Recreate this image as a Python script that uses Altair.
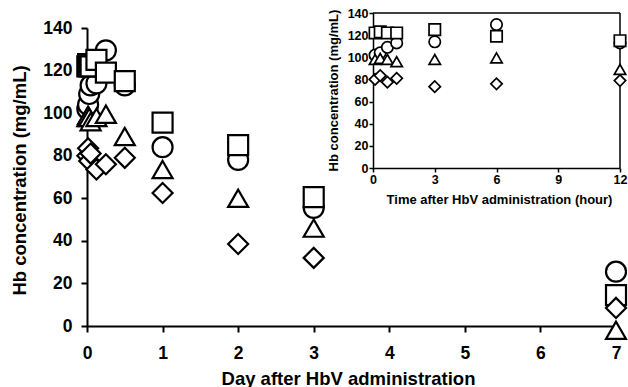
import altair as alt
import pandas as pd

# sampling times (hours after HbV administration)
hours = [0.1, 0.35, 0.7, 1.15, 3, 6, 12, 24, 48, 72, 168]

# Hb concentration (mg/mL) per animal / symbol
hb_circle = [102, 104, 109, 113, 114, 129.5, 113, 84, 78, 55.5, 25.5]
hb_square = [122, 123, 122, 122, 125, 119, 115, 95.5, 85, 60.5, 14.5]
hb_triangle = [98, 99, 98, 96, 98, 99.5, 89, 73.5, 60, 46, -2]
hb_diamond = [80, 83.5, 77.5, 81, 73.5, 76, 79, 62.5, 38.5, 32, 8.5]

series_names = ["circle", "square", "triangle", "diamond"]
series_shapes = ["circle", "square", "triangle-up", "diamond"]
series_values = [hb_circle, hb_square, hb_triangle, hb_diamond]

day_ticks = [0, 1, 2, 3, 4, 5, 6, 7]
hb_ticks = [0, 20, 40, 60, 80, 100, 120, 140]
hour_ticks = [0, 3, 6, 9, 12]
inset_hour_max = 12
inset_hb_max = 140

rows = []
k = 0
for name, vals in zip(series_names, series_values):
    for h, v in zip(hours, vals):
        rows.append({"series": name, "hour": h, "day": h / 24.0, "hb": v, "k": k})
        k += 1
df = pd.DataFrame(rows)
df_inset = df[df["hour"] <= inset_hour_max]

FONT = "Liberation Sans"
shape_scale = alt.Scale(domain=series_names, range=series_shapes)

main = alt.Chart(df).mark_point(
    filled=True, fill="white", stroke="black", strokeWidth=2.2, size=400, opacity=1
).encode(
    x=alt.X("day:Q", scale=alt.Scale(domain=[0, 7], nice=False),
            axis=alt.Axis(values=day_ticks, format="d", orient="bottom", grid=False,
                          domainColor="black", domainWidth=2, tickColor="black",
                          tickWidth=2, tickSize=6, labelFont=FONT, labelFontSize=17.5,
                          labelFontWeight="bold", labelColor="black", labelPadding=12,
                          labelFlush=False, labelOverlap=False,
                          title="Day after HbV administration", titleFont=FONT,
                          titleFontSize=18.5, titleFontWeight="bold", titleColor="black",
                          titleX=261, titleY=58, titleBaseline="alphabetic")),
    y=alt.Y("hb:Q", scale=alt.Scale(domain=[0, 140], nice=False),
            axis=alt.Axis(values=hb_ticks, orient="left", grid=False,
                          domainColor="black", domainWidth=2, tickColor="black",
                          tickWidth=2, tickSize=6, labelFont=FONT, labelFontSize=17.5,
                          labelFontWeight="bold", labelColor="black", labelPadding=9,
                          labelFlush=False, labelOverlap=False,
                          title="Hb concentration (mg/mL)", titleFont=FONT,
                          titleFontSize=18.5, titleFontWeight="bold", titleColor="black",
                          titleAngle=270, titleX=-62, titleY=152,
                          titleBaseline="alphabetic")),
    shape=alt.Shape("series:N", scale=shape_scale, legend=None),
    order=alt.Order("k:Q"),
)

inset_x_scale = alt.Scale(domain=[0, inset_hour_max], range=[286, 533], nice=False)
inset_y_scale = alt.Scale(domain=[0, inset_hb_max], range=[140, -15], nice=False)

frame_top = alt.Chart(pd.DataFrame({"x": [0], "x2": [inset_hour_max], "y": [inset_hb_max]})).mark_rule(
    color="black", strokeWidth=1.5
).encode(
    x=alt.X("x:Q", scale=inset_x_scale, axis=None),
    x2="x2:Q",
    y=alt.Y("y:Q", scale=inset_y_scale, axis=None),
)
frame_right = alt.Chart(pd.DataFrame({"x": [inset_hour_max], "y": [0], "y2": [inset_hb_max]})).mark_rule(
    color="black", strokeWidth=1.5
).encode(
    x=alt.X("x:Q", scale=inset_x_scale, axis=None),
    y=alt.Y("y:Q", scale=inset_y_scale, axis=None),
    y2="y2:Q",
)

inset_pts = alt.Chart(df_inset).mark_point(
    filled=True, fill="white", stroke="black", strokeWidth=1.7, size=130, opacity=1
).encode(
    x=alt.X("hour:Q", scale=inset_x_scale,
            axis=alt.Axis(values=hour_ticks, format="d", orient="bottom", offset=-158,
                          grid=False, domainColor="black", domainWidth=1.5,
                          tickColor="black", tickWidth=1.5, tickSize=4,
                          labelFont=FONT, labelFontSize=12.5, labelFontWeight="bold",
                          labelColor="black", labelPadding=1, labelFlush=False,
                          labelOverlap=False,
                          title="Time after HbV administration (hour)", titleFont=FONT,
                          titleFontSize=13, titleFontWeight="bold", titleColor="black",
                          titleX=412, titleY=35, titleBaseline="alphabetic")),
    y=alt.Y("hb:Q", scale=inset_y_scale,
            axis=alt.Axis(values=hb_ticks, orient="left", offset=-286, grid=False,
                          domainColor="black", domainWidth=1.5, tickColor="black",
                          tickWidth=1.5, tickSize=4, labelFont=FONT, labelFontSize=12.5,
                          labelFontWeight="bold", labelColor="black", labelPadding=1,
                          labelFlush=False, labelOverlap=False,
                          title="Hb concentration (mg/mL)", titleFont=FONT,
                          titleFontSize=13, titleFontWeight="bold", titleColor="black",
                          titleAngle=270, titleX=-36, titleY=62,
                          titleBaseline="alphabetic")),
    shape=alt.Shape("series:N", scale=shape_scale, legend=None),
    order=alt.Order("k:Q"),
)

chart = alt.layer(main, frame_top, frame_right, inset_pts).resolve_scale(
    x="independent", y="independent", shape="shared"
).resolve_axis(
    x="independent", y="independent"
).properties(
    width=529, height=298,
    padding={"left": 87, "top": 28, "right": 12, "bottom": 61},
    autosize=alt.AutoSizeParams(type="none"),
    background="white",
).configure_view(stroke=None)

chart.save("out.html", embed_options={"renderer": "svg", "actions": False})
